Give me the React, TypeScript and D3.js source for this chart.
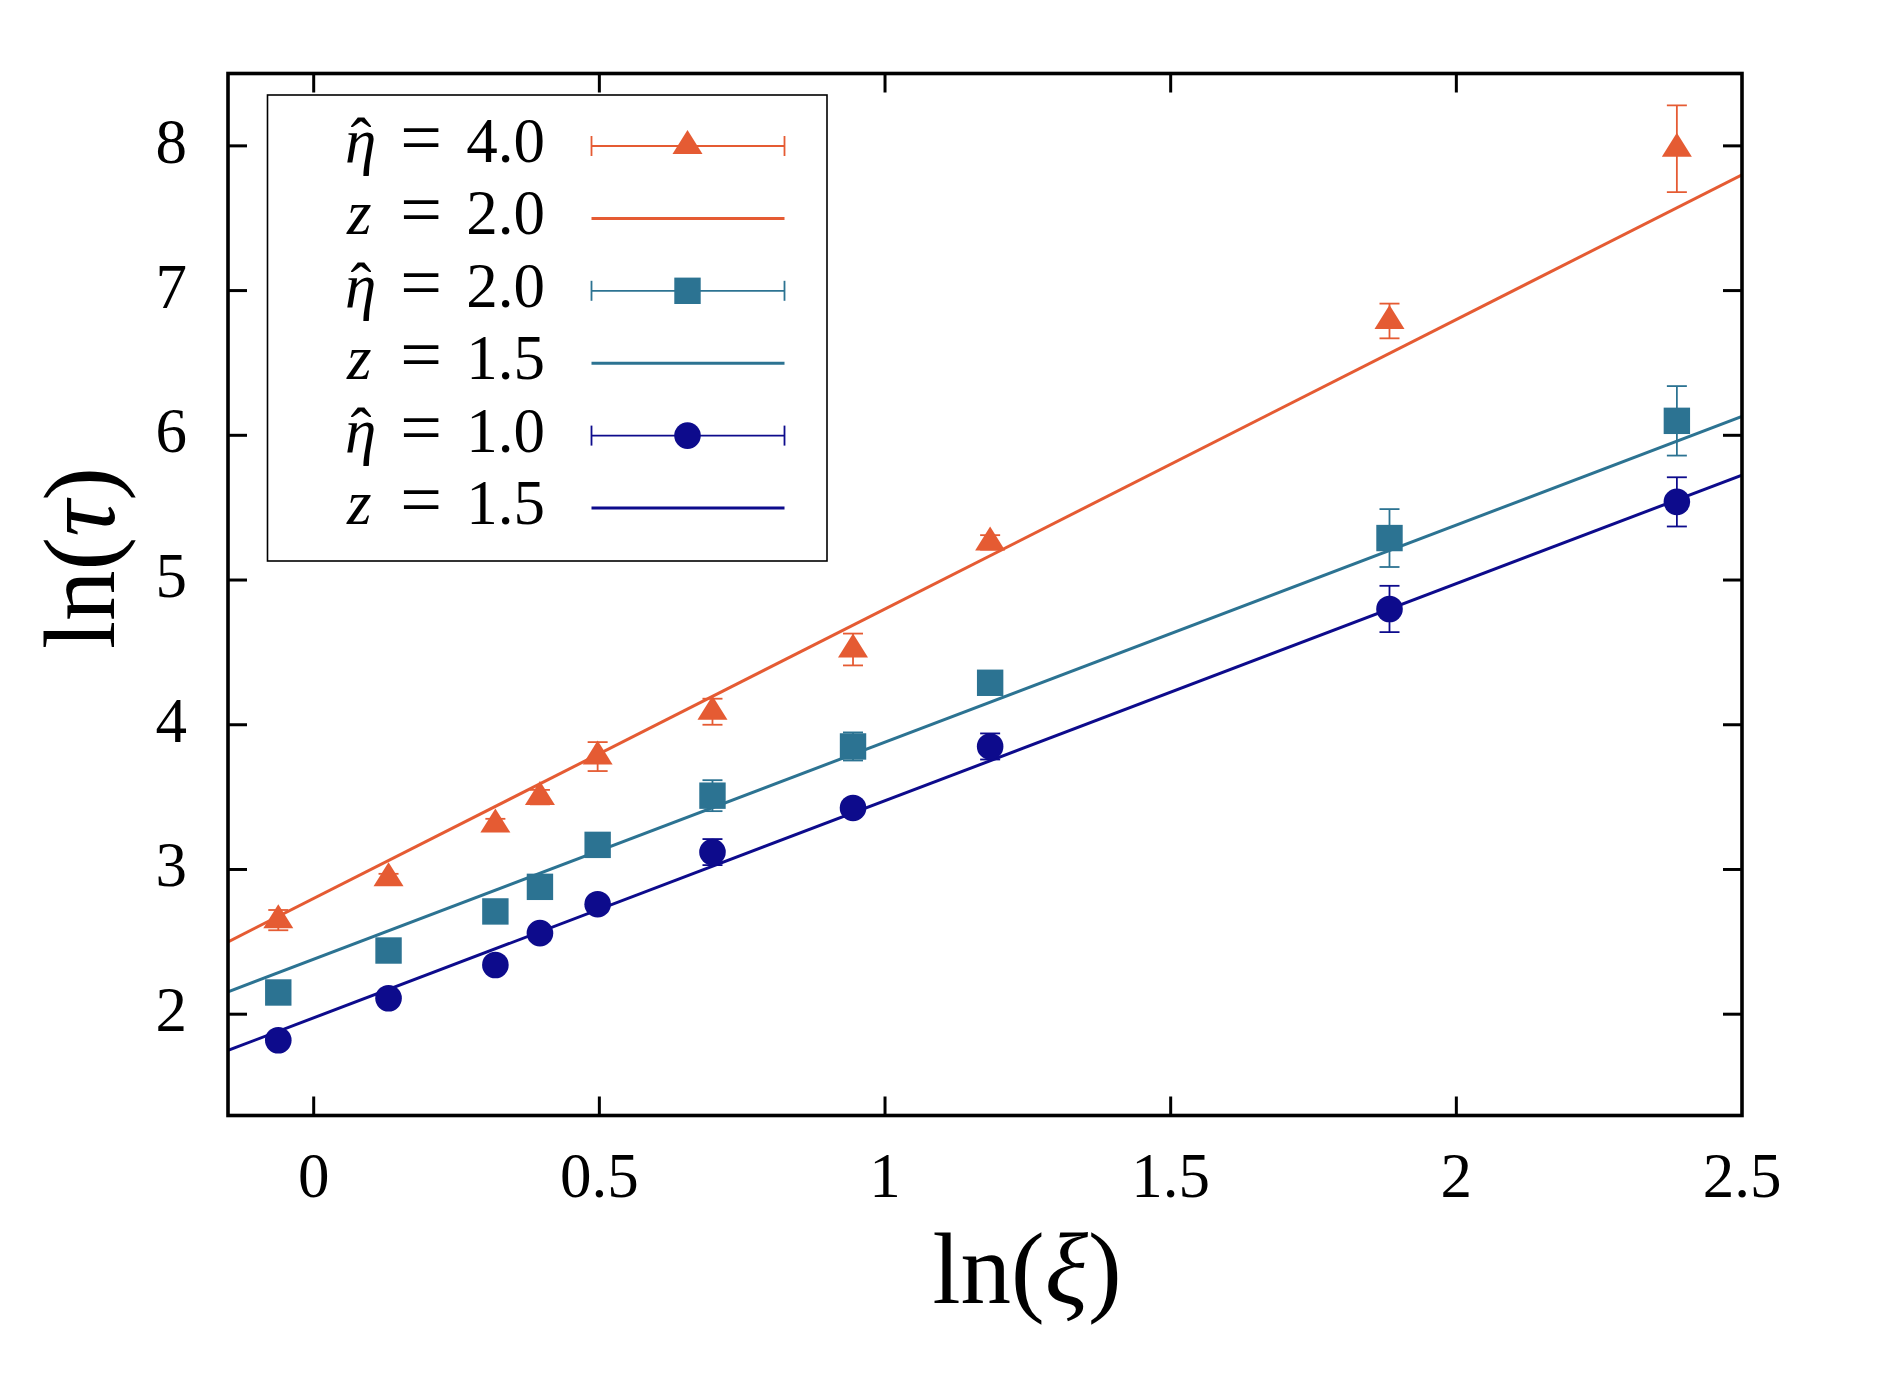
import React from 'react';
import * as d3 from 'd3';

// ln(xi) positions shared by all three data sets
const lnXi = [-0.062, 0.131, 0.318, 0.396, 0.497, 0.698, 0.944, 1.184, 1.883, 2.386];

// eta-hat = 4.0 (triangles)
const tauEta4 = [2.65, 2.94, 3.31, 3.5, 3.78, 4.09, 4.52, 5.26, 6.79, 7.98];
const errEta4 = [0.07, 0.03, 0.04, 0.05, 0.1, 0.09, 0.11, 0.05, 0.12, 0.3];

// eta-hat = 2.0 (squares)
const tauEta2 = [2.15, 2.44, 2.71, 2.88, 3.17, 3.51, 3.85, 4.29, 5.29, 6.1];
const errEta2 = [0.03, 0.03, 0.03, 0.03, 0.03, 0.107, 0.097, 0.04, 0.2, 0.24];

// eta-hat = 1.0 (circles)
const tauEta1 = [1.82, 2.11, 2.34, 2.56, 2.76, 3.12, 3.425, 3.85, 4.8, 5.54];
const errEta1 = [0.02, 0.02, 0.03, 0.03, 0.03, 0.09, 0.04, 0.09, 0.16, 0.17];

// straight-line fits ln(tau) = a + z ln(xi)
const fitSlopes = [2.0, 1.5, 1.5];
const fitIntercepts = [2.8, 2.38, 1.975];

const etaLabels = ['4.0', '2.0', '1.0'];
const zLabels = ['2.0', '1.5', '1.5'];

const xTicks = [0, 0.5, 1, 1.5, 2, 2.5];
const yTicks = [2, 3, 4, 5, 6, 7, 8];

const W = 1889;
const H = 1389;
const frame = { left: 228, right: 1742, top: 73.5, bottom: 1115.5 };

const colors = ['#E55B33', '#2C7392', '#0D0B8C'];
const FONT = '"Liberation Serif", "DejaVu Serif", serif';

const x = d3.scaleLinear().domain([-0.15, 2.5]).range([frame.left, frame.right]);
const y = d3.scaleLinear().domain([1.3, 8.5]).range([frame.bottom, frame.top]);

type Shape = 'triangle' | 'square' | 'circle';

function Marker({ shape, cx, cy, color }: { shape: Shape; cx: number; cy: number; color: string }) {
  if (shape === 'circle') return <circle cx={cx} cy={cy} r={13.3} fill={color} />;
  if (shape === 'square') return <rect x={cx - 13.2} y={cy - 13.2} width={26.4} height={26.4} fill={color} />;
  // triangle centred on its centroid
  const w = 15, h = 24;
  const pts = [
    [cx, cy - (2 * h) / 3],
    [cx - w, cy + h / 3],
    [cx + w, cy + h / 3],
  ];
  return <polygon points={pts.map((p) => p.join(',')).join(' ')} fill={color} />;
}

function ErrorBar({ px, lo, hi, color }: { px: number; lo: number; hi: number; color: string }) {
  const cap = 10;
  return (
    <g stroke={color} strokeWidth={1.8}>
      <line x1={px} x2={px} y1={lo} y2={hi} />
      <line x1={px - cap} x2={px + cap} y1={lo} y2={lo} />
      <line x1={px - cap} x2={px + cap} y1={hi} y2={hi} />
    </g>
  );
}

const series: { shape: Shape; vals: number[]; errs: number[] }[] = [
  { shape: 'triangle', vals: tauEta4, errs: errEta4 },
  { shape: 'square', vals: tauEta2, errs: errEta2 },
  { shape: 'circle', vals: tauEta1, errs: errEta1 },
];

export default function App() {
  const legend = { left: 267.5, top: 95, right: 827, bottom: 561, row0: 146, step: 72.4 };
  const lineX0 = 591.5;
  const lineX1 = 784.5;
  const markX = 687.5;

  return (
    <svg
      width={W}
      height={H}
      style={{ position: 'absolute', left: 0, top: 0, background: '#fff' }}
      fontFamily={FONT}
    >
      <defs>
        <clipPath id="plotArea">
          <rect x={frame.left} y={frame.top} width={frame.right - frame.left} height={frame.bottom - frame.top} />
        </clipPath>
      </defs>

      {/* fits */}
      <g clipPath="url(#plotArea)" fill="none" strokeWidth={3}>
        {fitSlopes.map((z, i) => {
          const path = d3
            .line<number>()
            .x((d) => x(d))
            .y((d) => y(fitIntercepts[i] + z * d))(x.domain());
          return <path key={i} d={path || ''} stroke={colors[i]} />;
        })}
      </g>

      {/* data with error bars */}
      <g clipPath="url(#plotArea)">
        {series.map((s, si) => (
          <g key={si}>
            {s.vals.map((v, j) => (
              <ErrorBar key={j} px={x(lnXi[j])} lo={y(v - s.errs[j])} hi={y(v + s.errs[j])} color={colors[si]} />
            ))}
            {s.vals.map((v, j) => (
              <Marker key={j} shape={s.shape} cx={x(lnXi[j])} cy={y(v)} color={colors[si]} />
            ))}
          </g>
        ))}
      </g>

      {/* inward ticks */}
      <g stroke="#000" strokeWidth={3}>
        {xTicks.slice(0, -1).map((t) => (
          <g key={t}>
            <line x1={x(t)} x2={x(t)} y1={frame.bottom} y2={frame.bottom - 19} />
            <line x1={x(t)} x2={x(t)} y1={frame.top} y2={frame.top + 19} />
          </g>
        ))}
        {yTicks.map((t) => (
          <g key={t}>
            <line x1={frame.left} x2={frame.left + 19} y1={y(t)} y2={y(t)} />
            <line x1={frame.right} x2={frame.right - 19} y1={y(t)} y2={y(t)} />
          </g>
        ))}
      </g>

      <rect
        x={frame.left}
        y={frame.top}
        width={frame.right - frame.left}
        height={frame.bottom - frame.top}
        fill="none"
        stroke="#000"
        strokeWidth={3.6}
      />

      {/* tick labels */}
      <g fontSize={63} fill="#000">
        {xTicks.map((t) => (
          <text key={t} x={x(t)} y={1197} textAnchor="middle">
            {String(t)}
          </text>
        ))}
        {yTicks.map((t) => (
          <text key={t} x={187} y={y(t) + 17} textAnchor="end">
            {String(t)}
          </text>
        ))}
      </g>

      {/* axis titles */}
      <text x={1027} y={1303} fontSize={101} textAnchor="middle">
        ln(<tspan fontStyle="italic">ξ</tspan>)
      </text>
      <text transform={`translate(114,558) rotate(-90)`} fontSize={101} textAnchor="middle">
        ln(<tspan fontStyle="italic">τ</tspan>)
      </text>

      {/* key */}
      <g>
        <rect
          x={legend.left}
          y={legend.top}
          width={legend.right - legend.left}
          height={legend.bottom - legend.top}
          fill="#fff"
          stroke="#000"
          strokeWidth={1.6}
        />
        {series.map((s, si) => {
          const rowData = legend.row0 + legend.step * (2 * si);
          const rowFit = legend.row0 + legend.step * (2 * si + 1);
          return (
            <g key={si} fontSize={63}>
              <text y={rowData + 16}>
                <tspan x={345} fontStyle="italic">η</tspan>
                <tspan x={361} textAnchor="middle">ˆ</tspan>
                <tspan x={421} textAnchor="middle" fontSize={74}>=</tspan>
                <tspan x={545} textAnchor="end">{etaLabels[si]}</tspan>
              </text>
              <g stroke={colors[si]} strokeWidth={1.8}>
                <line x1={lineX0} x2={lineX1} y1={rowData} y2={rowData} />
                <line x1={lineX0} x2={lineX0} y1={rowData - 10} y2={rowData + 10} />
                <line x1={lineX1} x2={lineX1} y1={rowData - 10} y2={rowData + 10} />
              </g>
              <Marker shape={s.shape} cx={markX} cy={rowData} color={colors[si]} />

              <text y={rowFit + 16}>
                <tspan x={347} fontStyle="italic">z</tspan>
                <tspan x={421} textAnchor="middle" fontSize={74}>=</tspan>
                <tspan x={545} textAnchor="end">{zLabels[si]}</tspan>
              </text>
              <line x1={lineX0} x2={lineX1} y1={rowFit} y2={rowFit} stroke={colors[si]} strokeWidth={3} />
            </g>
          );
        })}
      </g>
    </svg>
  );
}
